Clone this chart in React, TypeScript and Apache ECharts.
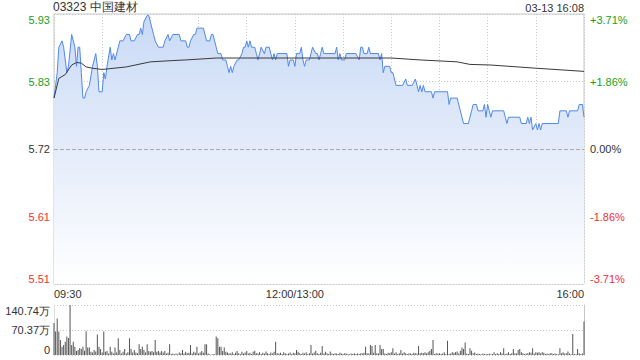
import React, { useEffect, useRef } from 'react';
import * as echarts from 'echarts';

const prevClose = 5.72;
const pctMax = 3.71;
const pctStep = 1.855;
const titleText = '03323 中国建材';
const timeText = '03-13 16:08';
const watermarkText = 'sina.com';
const xTickMinutes = [0, 150, 330];
const xTickLabels = ['09:30', '12:00/13:00', '16:00'];
const priceTickLabels = ['5.51', '5.61', '5.72', '5.83', '5.93'];
const pctTickLabels = ['-3.71%', '-1.86%', '0.00%', '+1.86%', '+3.71%'];
const tickColors = ['#f03030', '#f03030', '#333333', '#1a9e1a', '#1a9e1a'];
const volMax = 140.74;
const volTickLabels = ['0', '70.37万', '140.74万'];

const priceMinutes = [
  0, 2, 3, 5, 6, 8, 9, 11, 12, 13, 14, 15, 16, 17, 18, 19, 20, 22, 24, 26, 27, 28, 30, 31, 32, 33, 35, 36, 37, 38,
  40, 41, 43, 45, 47, 48, 50, 52, 53, 54, 55, 56, 58, 59, 60, 62, 63, 65, 68, 69, 71, 72, 74, 78, 79, 82, 83, 84, 85, 87,
  88, 89, 93, 94, 95, 97, 98, 99, 100, 101, 102, 104, 105, 107, 108, 109, 110, 111, 112, 114, 115, 117, 118, 119, 120, 121, 122, 123, 125, 126,
  127, 128, 129, 131, 132, 134, 135, 136, 137, 138, 139, 145, 146, 147, 149, 150, 151, 153, 154, 155, 156, 157, 159, 160, 161, 163, 164, 165, 166, 167,
  168, 175, 176, 177, 178, 179, 181, 182, 188, 190, 191, 192, 193, 195, 196, 197, 202, 203, 204, 205, 206, 209, 210, 211, 213, 217, 219, 220, 223, 225,
  226, 227, 228, 229, 230, 231, 235, 236, 237, 245, 246, 247, 251, 253, 255, 258, 260, 261, 263, 264, 267, 268, 269, 270, 271, 272, 273, 280, 281, 282,
  283, 290, 291, 294, 295, 296, 297, 298, 300, 301, 302, 303, 304, 314, 315, 319, 320, 321, 326, 327, 329, 330,
];
const priceValues = [
  5.80, 5.84, 5.88, 5.89, 5.88, 5.84, 5.85, 5.90, 5.89, 5.88, 5.85, 5.88, 5.88, 5.84, 5.80, 5.80, 5.81, 5.82, 5.85, 5.87, 5.85, 5.81, 5.81, 5.84, 5.83, 5.85, 5.88, 5.86, 5.87, 5.86,
  5.88, 5.89, 5.89, 5.90, 5.90, 5.89, 5.89, 5.90, 5.90, 5.91, 5.90, 5.92, 5.93, 5.93, 5.92, 5.90, 5.89, 5.88, 5.88, 5.89, 5.90, 5.89, 5.90, 5.90, 5.89, 5.89, 5.88, 5.88, 5.89, 5.90,
  5.90, 5.91, 5.91, 5.90, 5.89, 5.89, 5.90, 5.90, 5.89, 5.88, 5.87, 5.87, 5.86, 5.86, 5.85, 5.84, 5.85, 5.84, 5.85, 5.86, 5.86, 5.87, 5.88, 5.88, 5.89, 5.88, 5.89, 5.88, 5.88, 5.87,
  5.86, 5.87, 5.88, 5.87, 5.88, 5.88, 5.87, 5.86, 5.87, 5.86, 5.87, 5.87, 5.85, 5.86, 5.86, 5.85, 5.87, 5.87, 5.88, 5.86, 5.85, 5.86, 5.86, 5.87, 5.88, 5.87, 5.87, 5.86, 5.87, 5.88,
  5.87, 5.87, 5.88, 5.86, 5.87, 5.86, 5.86, 5.87, 5.87, 5.86, 5.88, 5.88, 5.87, 5.87, 5.88, 5.87, 5.87, 5.86, 5.87, 5.84, 5.85, 5.85, 5.84, 5.84, 5.82, 5.82, 5.83, 5.82, 5.82, 5.83,
  5.82, 5.81, 5.82, 5.81, 5.82, 5.81, 5.81, 5.80, 5.81, 5.81, 5.79, 5.80, 5.80, 5.78, 5.76, 5.76, 5.78, 5.79, 5.79, 5.78, 5.78, 5.79, 5.77, 5.79, 5.78, 5.77, 5.78, 5.78, 5.77, 5.76,
  5.77, 5.77, 5.76, 5.76, 5.77, 5.76, 5.77, 5.75, 5.76, 5.75, 5.76, 5.75, 5.76, 5.76, 5.78, 5.78, 5.77, 5.78, 5.78, 5.79, 5.79, 5.77,
];

const avgMinutes = [0, 3, 7, 11, 14, 17, 20, 24, 30, 45, 60, 74, 82, 101, 210, 228, 251, 259, 272, 300, 330];
const avgValues = [5.800, 5.831, 5.837, 5.852, 5.856, 5.855, 5.849, 5.847, 5.845, 5.849, 5.857, 5.859, 5.860, 5.863, 5.863, 5.860, 5.857, 5.853, 5.852, 5.847, 5.842];

const volumes = [
  90, 66, 103, 66, 42, 23, 28, 37, 52, 48,
  141, 28, 37, 23, 11, 14, 20, 17, 23, 12,
  67, 21, 21, 9, 7, 14, 10, 58, 23, 17,
  7, 66, 9, 11, 4, 23, 9, 4, 21, 7,
  47, 14, 4, 9, 17, 4, 8, 47, 17, 7,
  14, 7, 5, 30, 17, 23, 14, 7, 30, 11,
  9, 11, 8, 42, 9, 11, 7, 11, 7, 11,
  4, 6, 30, 3, 4, 2, 4, 2, 7, 5,
  14, 4, 9, 5, 6, 28, 4, 9, 6, 23,
  4, 7, 11, 6, 30, 30, 4, 2, 1, 3,
  2, 52, 47, 23, 23, 11, 21, 9, 7, 5,
  4, 8, 3, 6, 11, 5, 3, 9, 4, 7,
  11, 4, 6, 3, 9, 12, 5, 4, 8, 3,
  6, 4, 10, 5, 3, 7, 4, 9, 37, 5,
  4, 6, 3, 8, 5, 3, 4, 7, 3, 6,
  5, 14, 9, 5, 3, 6, 4, 8, 3, 5,
  28, 4, 7, 12, 5, 3, 6, 25, 4, 9,
  5, 3, 10, 4, 3, 5, 4, 3, 6, 4,
  3, 5, 4, 3, 2, 4, 3, 5, 3, 4,
  3, 5, 4, 6, 23, 5, 4, 28, 25, 6,
  28, 5, 4, 28, 17, 17, 4, 3, 6, 5,
  8, 19, 4, 8, 3, 5, 14, 4, 8, 5,
  3, 5, 4, 3, 6, 5, 4, 25, 5, 6,
  5, 8, 5, 8, 12, 17, 42, 3, 5, 4,
  5, 3, 4, 8, 3, 40, 3, 4, 8, 6,
  8, 10, 4, 12, 21, 17, 35, 4, 3, 19,
  12, 5, 7, 3, 4, 3, 2, 4, 3, 2,
  3, 4, 2, 3, 8, 3, 5, 3, 8, 4,
  19, 3, 4, 8, 3, 5, 17, 5, 4, 14,
  17, 8, 5, 3, 4, 5, 8, 6, 19, 4,
  8, 6, 8, 4, 8, 6, 3, 4, 3, 5,
  5, 3, 4, 3, 2, 19, 5, 8, 4, 5,
  10, 4, 2, 59, 3, 2, 17, 5, 3, 4, 94,
];

const FONT = 'Liberation Sans, Arial, sans-serif';

function pctIndex(v: number) {
  return Math.round((v + pctMax) / pctStep);
}

export default function App() {
  const ref = useRef<HTMLDivElement>(null);
  useEffect(() => {
    document.body.style.margin = '0';
    if (!ref.current) return;
    const chart = echarts.init(ref.current, undefined, { renderer: 'svg' });
    const toPct = (p: number) => (p / prevClose - 1) * 100;
    const priceData = priceMinutes.map((m, i) => [m, toPct(priceValues[i])]);
    const avgData = avgMinutes.map((m, i) => [m, toPct(avgValues[i])]);
    const volData = volumes.map((v, i) => [i, v]);

    const mainYAxisCommon = {
      type: 'value',
      gridIndex: 0,
      min: -pctMax,
      max: pctMax,
      interval: pctStep,
      axisLine: { show: false },
      axisTick: { show: false },
    };

    chart.setOption({
      animation: false,
      textStyle: { fontFamily: FONT },
      title: {
        text: titleText,
        left: 53,
        top: 1,
        padding: 0,
        textStyle: { fontSize: 12, fontWeight: 'normal', color: '#333', fontFamily: FONT },
      },
      graphic: [
        {
          type: 'text',
          right: 56,
          top: 2,
          style: { text: timeText, font: `11px ${FONT}`, fill: '#333' },
        },
        {
          type: 'text',
          right: 67,
          top: 274,
          style: { text: watermarkText, font: `11px ${FONT}`, fill: '#cccccc' },
        },
      ],
      grid: [
        { left: 54, right: 56, top: 14, height: 270, show: true, borderColor: '#c8c8c8', borderWidth: 1 },
        { left: 54, right: 56, top: 305, height: 50 },
      ],
      xAxis: [
        {
          type: 'value',
          gridIndex: 0,
          min: 0,
          max: 330,
          interval: 30,
          axisLine: { show: false },
          axisTick: { show: false },
          splitLine: { show: true, lineStyle: { color: '#c8c8c8', type: [1, 2], width: 1 } },
          axisLabel: {
            margin: 4,
            fontSize: 11,
            color: '#333',
            fontFamily: FONT,
            showMinLabel: true,
            showMaxLabel: true,
            alignMinLabel: 'left',
            alignMaxLabel: 'right',
            formatter: (v: number) => {
              const k = xTickMinutes.indexOf(Math.round(v));
              return k >= 0 ? xTickLabels[k] : '';
            },
          },
        },
        {
          type: 'value',
          gridIndex: 1,
          min: 0,
          max: 330,
          axisLine: { show: false },
          axisTick: { show: false },
          axisLabel: { show: false },
          splitLine: { show: false },
        },
      ],
      yAxis: [
        {
          ...mainYAxisCommon,
          position: 'left',
          splitLine: { show: true, lineStyle: { color: '#c8c8c8', type: [1, 2], width: 1 } },
          axisLabel: {
            margin: 4,
            fontSize: 11,
            fontFamily: FONT,
            showMinLabel: true,
            showMaxLabel: true,
            verticalAlignMinLabel: 'bottom',
            verticalAlignMaxLabel: 'top',
            formatter: (v: number) => priceTickLabels[pctIndex(v)],
            color: (v: number) => tickColors[pctIndex(Number(v))],
          },
        },
        {
          ...mainYAxisCommon,
          position: 'right',
          splitLine: { show: false },
          axisLabel: {
            margin: 6,
            fontSize: 11,
            fontFamily: FONT,
            showMinLabel: true,
            showMaxLabel: true,
            verticalAlignMinLabel: 'bottom',
            verticalAlignMaxLabel: 'top',
            formatter: (v: number) => pctTickLabels[pctIndex(v)],
            color: (v: number) => tickColors[pctIndex(Number(v))],
          },
        },
        {
          type: 'value',
          gridIndex: 1,
          position: 'left',
          min: 0,
          max: volMax,
          interval: volMax / 2,
          axisLine: { show: true, lineStyle: { color: '#dddddd' } },
          axisTick: { show: false },
          splitLine: { show: true, lineStyle: { color: '#c8c8c8', type: [1, 2], width: 1 } },
          axisLabel: {
            margin: 4,
            fontSize: 11,
            color: '#333',
            fontFamily: FONT,
            showMinLabel: true,
            showMaxLabel: true,
            verticalAlignMinLabel: 'bottom',
            verticalAlignMaxLabel: 'top',
            formatter: (v: number) => volTickLabels[Math.round(v / (volMax / 2))],
          },
        },
        {
          type: 'value',
          gridIndex: 1,
          position: 'right',
          min: 0,
          max: volMax,
          interval: volMax / 2,
          axisLine: { show: true, lineStyle: { color: '#c8c8c8' } },
          axisTick: { show: false },
          axisLabel: { show: false },
          splitLine: { show: false },
        },
      ],
      series: [
        {
          type: 'line',
          xAxisIndex: 0,
          yAxisIndex: 0,
          data: priceData,
          symbol: 'none',
          lineStyle: { color: '#4f88ec', width: 1 },
          areaStyle: {
            origin: 'start',
            opacity: 1,
            color: new echarts.graphic.LinearGradient(0, 14, 0, 284, [
              { offset: 0, color: '#c9daf6' },
              { offset: 0.5, color: '#e4ecfa' },
              { offset: 1, color: '#ffffff' },
            ], true),
          },
          markLine: {
            silent: true,
            symbol: ['none', 'none'],
            label: { show: false },
            lineStyle: { color: '#aaaaaa', type: [4, 2], width: 1 },
            data: [{ yAxis: 0 }],
          },
          z: 3,
        },
        {
          type: 'line',
          xAxisIndex: 0,
          yAxisIndex: 0,
          data: avgData,
          symbol: 'none',
          smooth: false,
          lineStyle: { color: '#3a3a3a', width: 1 },
          z: 4,
        },
        {
          type: 'bar',
          xAxisIndex: 1,
          yAxisIndex: 2,
          data: volData,
          barWidth: 1,
          itemStyle: { color: '#555555' },
        },
      ],
    });
    return () => chart.dispose();
  }, []);
  return <div ref={ref} style={{ width: 640, height: 360 }} />;
}
